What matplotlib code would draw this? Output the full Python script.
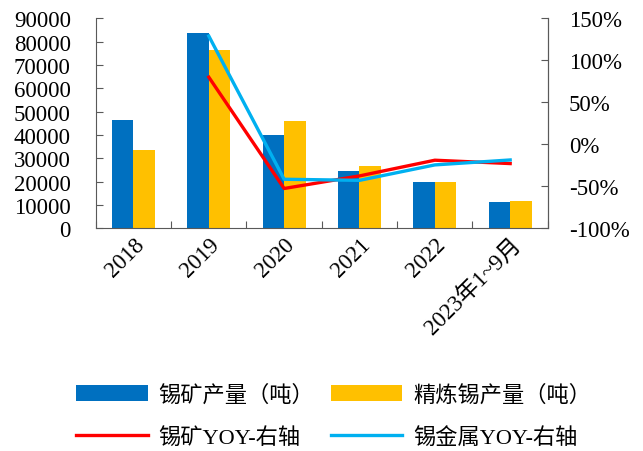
import numpy as np
import matplotlib
matplotlib.use("Agg")
from matplotlib import pyplot as plt

plt.rcParams['font.family'] = ['Liberation Serif', 'Noto Sans CJK SC']
plt.rcParams['axes.unicode_minus'] = False

categories = ['2018', '2019', '2020', '2021', '2022', '2023年1~9月']
ore_output = [46400, 83800, 39900, 24700, 20000, 11100]
refined_output = [33600, 76500, 45900, 26600, 19700, 11700]
ore_yoy = [None, 80, -52.7, -37.7, -19, -23]
metal_yoy = [None, 129, -41.7, -43, -24.6, -18.7]

x = np.arange(len(categories))
w = 0.285

fig = plt.figure(figsize=(6.43, 4.52), dpi=100)
ax = fig.add_axes([0.149, 0.493, 0.703, 0.464])
ax2 = ax.twinx()

b1 = ax.bar(x - w / 2, ore_output, w, color='#0070C0', label='锡矿产量（吨）')
b2 = ax.bar(x + w / 2, refined_output, w, color='#FFC000', label='精炼锡产量（吨）')

yo = np.array([np.nan if v is None else v for v in ore_yoy])
ym = np.array([np.nan if v is None else v for v in metal_yoy])
l1, = ax2.plot(x, yo, color='#FF0000', lw=2.4, label='锡矿YOY-右轴')
l2, = ax2.plot(x, ym, color='#00B0F0', lw=2.4, label='锡金属YOY-右轴')

ax.set_xlim(-0.5, len(categories) - 0.5)
ax.set_ylim(0, 90000)
ax.set_yticks(np.arange(0, 90001, 10000))
ax2.set_ylim(-100, 150)
ax2.set_yticks(np.arange(-100, 151, 50))
ax2.set_yticklabels([f'{v}%' for v in range(-100, 151, 50)])

ax.set_xticks(np.arange(-0.5, len(categories), 1), minor=False)
ax.set_xticklabels([])
ax.set_xticks(x, minor=True)
ax.set_xticklabels(categories, minor=True, rotation=45, ha='right',
                   rotation_mode='anchor', fontsize=16.5)
ax.tick_params(axis='x', which='minor', length=0, pad=4)
ax.tick_params(axis='x', which='major', direction='in', length=5, color='#595959')

ax.tick_params(axis='y', direction='in', length=5, labelsize=16.5, color='#595959', pad=18)
ax2.tick_params(axis='y', direction='in', length=5, labelsize=16.5, color='#595959', pad=15)

for a in (ax, ax2):
    a.spines['top'].set_visible(False)
    for s in ('left', 'right', 'bottom'):
        a.spines[s].set_color('#595959')
ax2.spines['left'].set_visible(False)
ax2.spines['bottom'].set_visible(False)

fig.legend([b1, l1, b2, l2], [b1.get_label(), l1.get_label(), b2.get_label(), l2.get_label()],
           ncol=2, loc='lower left', bbox_to_anchor=(0.105, -0.012), frameon=False,
           fontsize=16, handlelength=3.2, columnspacing=0.75, labelspacing=0.95,
           handletextpad=0.5, borderaxespad=0.0)

fig.savefig('out.png', dpi=100)
